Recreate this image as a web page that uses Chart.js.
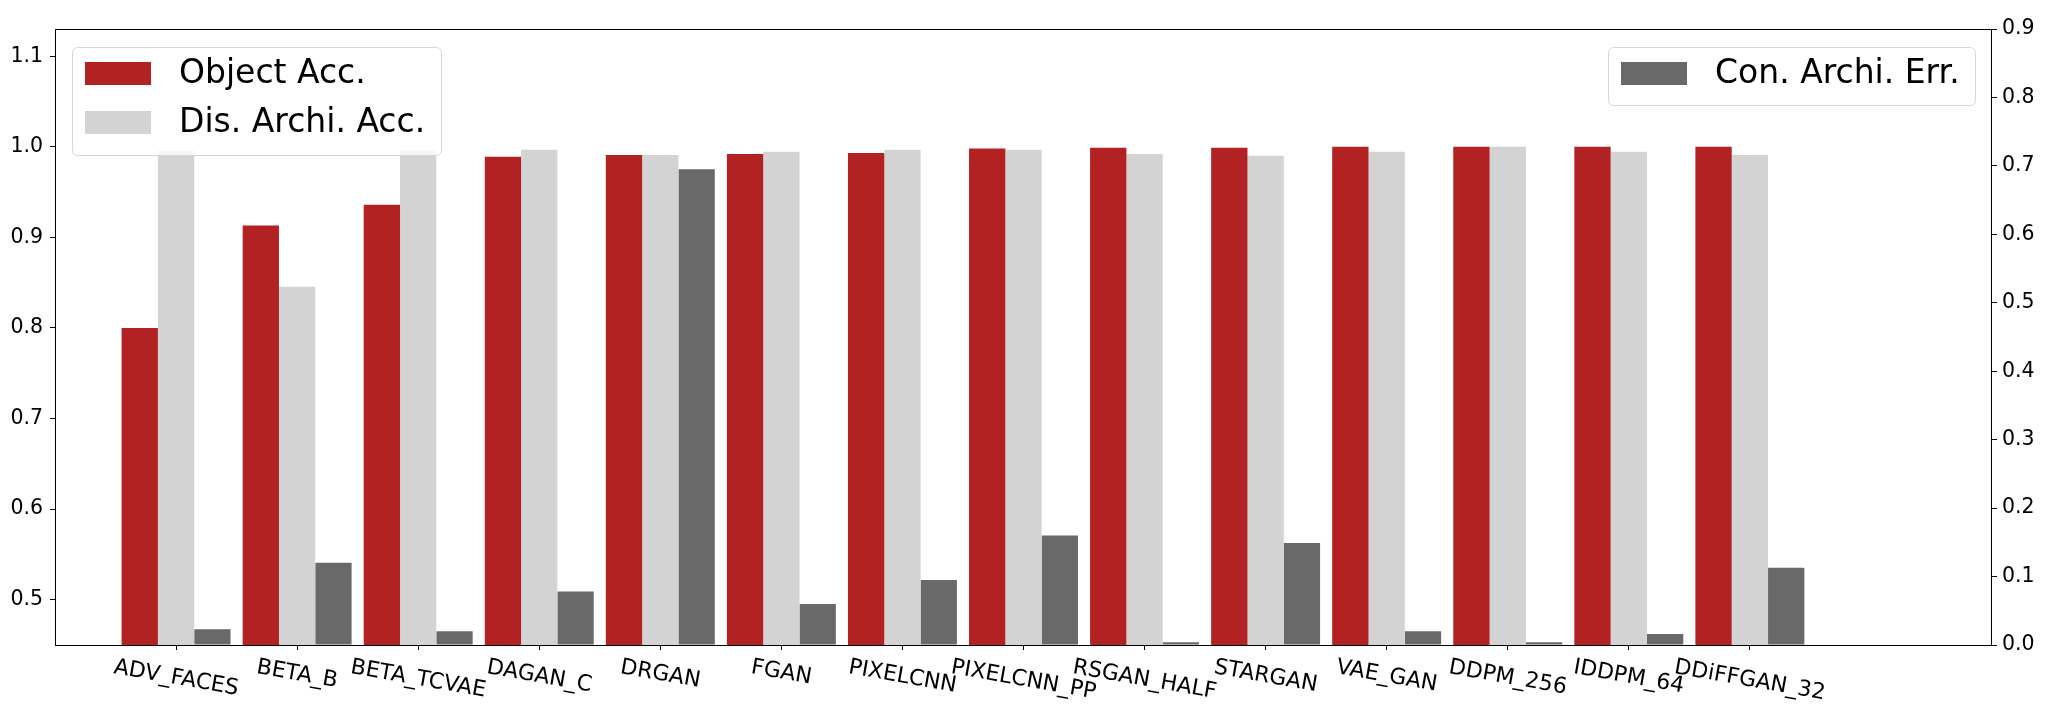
<!DOCTYPE html>
<html>
<head>
<meta charset="utf-8">
<script src="https://cdn.jsdelivr.net/npm/chart.js@4.4.0/dist/chart.umd.min.js"></script>
<style>
  body { margin: 0; background: #ffffff; }
  #wrap { width: 2047px; height: 704px; }
</style>
</head>
<body>
<div id="wrap"><canvas id="chartAcc" width="2047" height="704"></canvas></div>
<script>
// categories
const modelNames = [
  'ADV_FACES', 'BETA_B', 'BETA_TCVAE', 'DAGAN_C', 'DRGAN', 'FGAN', 'PIXELCNN',
  'PIXELCNN_PP', 'RSGAN_HALF', 'STARGAN', 'VAE_GAN', 'DDPM_256', 'IDDPM_64', 'DDiFFGAN_32'
]
// left axis series
const objectAcc = [0.800, 0.913, 0.936, 0.989, 0.991, 0.992, 0.993, 0.998, 0.999, 0.999, 1.000, 1.000, 1.000, 1.000]
const disArchiAcc = [0.9956, 0.8455, 0.996, 0.9967, 0.991, 0.9945, 0.9967, 0.9967, 0.992, 0.990, 0.9945, 1.000, 0.9945, 0.991]
// right axis series
const conArchiErr = [0.023, 0.120, 0.020, 0.078, 0.695, 0.060, 0.095, 0.160, 0.004, 0.149, 0.020, 0.004, 0.016, 0.113]
// tick labels
const leftTicks = [0.5, 0.6, 0.7, 0.8, 0.9, 1.0, 1.1]
const rightTicks = [0.0, 0.1, 0.2, 0.3, 0.4, 0.5, 0.6, 0.7, 0.8, 0.9]

const FONT = "'DejaVu Sans', sans-serif"

function toPoints(values) {
  let result = []
  for (let i = 0; i < values.length; i++) {
    result.push({ x: i, y: values[i] })
  }
  return result
}

function getDataset(label, values, color, axisId) {
  return {
    label: label,
    data: toPoints(values),
    backgroundColor: color,
    borderWidth: 0,
    yAxisID: axisId,
    categoryPercentage: 0.9,
    barPercentage: 1.0
  }
}

function setTicks(values) {
  return function (scale) {
    scale.ticks = values.map(v => ({ value: v }))
  }
}

// frame, rotated x labels and the two legends
const decorPlugin = {
  id: 'decor',
  afterDraw(chart) {
    const ctx = chart.ctx
    const area = chart.chartArea
    const xScale = chart.scales.x
    ctx.save()
    ctx.strokeStyle = '#000000'
    ctx.lineWidth = 1
    ctx.strokeRect(area.left + 0.5, area.top + 0.5, area.right - area.left - 1, area.bottom - area.top)

    // x labels, turned 10 degrees clockwise, box centred on the tick
    const angle = 10 * Math.PI / 180
    ctx.font = '22px ' + FONT
    ctx.fillStyle = '#000000'
    ctx.textAlign = 'center'
    ctx.textBaseline = 'middle'
    for (let i = 0; i < modelNames.length; i++) {
      const w = ctx.measureText(modelNames[i]).width
      const h = 25
      const boxH = w * Math.sin(angle) + h * Math.cos(angle)
      const px = xScale.getPixelForValue(i)
      const py = area.bottom + 10 + boxH / 2
      ctx.save()
      ctx.translate(px, py)
      ctx.rotate(angle)
      ctx.fillText(modelNames[i], 0, 0)
      ctx.restore()
    }

    const sets = chart.data.datasets
    drawLegend(ctx, 72, 47, 369, 108, [sets[0], sets[1]])
    drawLegend(ctx, 1608, 47, 367, 58, [sets[2]])
    ctx.restore()
  }
}

function drawLegend(ctx, x, y, w, h, items) {
  ctx.save()
  ctx.beginPath()
  ctx.roundRect(x + 0.5, y + 0.5, w, h, 5)
  ctx.fillStyle = 'rgba(255,255,255,0.8)'
  ctx.fill()
  ctx.strokeStyle = '#d6d6d6'
  ctx.lineWidth = 1
  ctx.stroke()
  ctx.font = '33px ' + FONT
  ctx.textAlign = 'left'
  ctx.textBaseline = 'middle'
  for (let i = 0; i < items.length; i++) {
    const rowY = y + 15 + i * 49
    ctx.fillStyle = items[i].backgroundColor
    ctx.fillRect(x + 13, rowY, 66, 23)
    ctx.fillStyle = '#000000'
    ctx.fillText(items[i].label, x + 107, rowY + 12)
  }
  ctx.restore()
}

const dataAcc = {
  datasets: [
    getDataset('Object Acc.', objectAcc, '#b22222', 'y'),
    getDataset('Dis. Archi. Acc.', disArchiAcc, '#d3d3d3', 'y'),
    getDataset('Con. Archi. Err.', conArchiErr, '#696969', 'y2')
  ]
}

const tickGrid = { display: true, drawOnChartArea: false, drawTicks: true, tickLength: 5, color: '#000000', lineWidth: 1 }

const optionAcc = {
  responsive: false,
  animation: false,
  layout: { padding: { top: 29, left: 0, right: 0, bottom: 0 } },
  plugins: { legend: { display: false }, tooltip: { enabled: false } },
  scales: {
    x: {
      type: 'linear',
      min: -1,
      max: 15,
      offset: false,
      grid: Object.assign({}, tickGrid, { offset: false }),
      border: { display: false },
      ticks: { display: false },
      afterBuildTicks: setTicks(modelNames.map((n, i) => i)),
      afterFit(scale) { scale.height = 59 }
    },
    y: {
      position: 'left',
      min: 0.45,
      max: 1.13,
      grid: tickGrid,
      border: { display: false },
      ticks: {
        color: '#000000',
        padding: 7,
        font: { family: FONT, size: 20.5 },
        callback: v => Number(v).toFixed(1)
      },
      afterBuildTicks: setTicks(leftTicks),
      afterFit(scale) { scale.width = 55 }
    },
    y2: {
      position: 'right',
      min: 0,
      max: 0.9,
      grid: tickGrid,
      border: { display: false },
      ticks: {
        color: '#000000',
        padding: 5,
        font: { family: FONT, size: 20.5 },
        callback: v => Number(v).toFixed(1)
      },
      afterBuildTicks: setTicks(rightTicks),
      afterFit(scale) { scale.width = 55 }
    }
  }
}

const chartAcc = new Chart(document.getElementById('chartAcc'), {
  type: 'bar',
  data: dataAcc,
  options: optionAcc,
  plugins: [decorPlugin]
})
</script>
</body>
</html>
